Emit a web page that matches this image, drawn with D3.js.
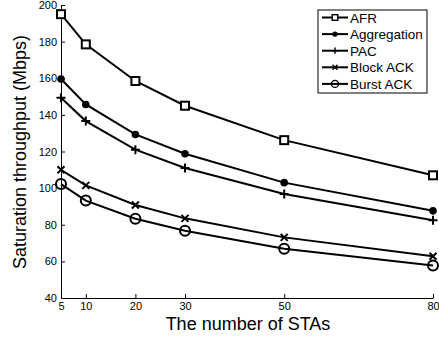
<!DOCTYPE html>
<html>
<head>
<meta charset="utf-8">
<script src="https://cdn.jsdelivr.net/npm/d3@7"></script>
<style>
body { margin: 0; background: #fff; }
text { font-family: "Liberation Sans", Arial, sans-serif; }
</style>
</head>
<body>
<div id="chart"></div>
<script>
// Data
var stas = [5, 10, 20, 30, 50, 80];
var afr = [195, 178.5, 158.5, 145, 126.2, 107];
var aggregation = [159.6, 145.7, 129.3, 118.8, 103, 87.6];
var pac = [149.3, 136.6, 121, 111, 96.8, 82.5];
var blockAck = [110, 101.5, 90.8, 83.5, 73.1, 62.8];
var burstAck = [102.2, 93.2, 83.3, 76.7, 66.9, 57.7];
var seriesNames = ["AFR", "Aggregation", "PAC", "Block ACK", "Burst ACK"];
var markerTypes = ["square", "dot", "plus", "cross", "circle"];
var xTicks = [5, 10, 20, 30, 50, 80];
var yTicks = [40, 60, 80, 100, 120, 140, 160, 180, 200];

var width = 439, height = 341;
var margin = {left: 61, right: 6, top: 5, bottom: 43};

var svg = d3.select("#chart").append("svg")
    .attr("width", width)
    .attr("height", height);

var x = d3.scaleLinear().domain([5, 80]).range([margin.left, width - margin.right]);
var y = d3.scaleLinear().domain([40, 200]).range([height - margin.bottom, margin.top]);

//Axes with inward ticks
svg.append("g")
    .attr("transform", "translate(0," + (height - margin.bottom) + ")")
    .call(d3.axisBottom(x).tickValues(xTicks).tickSizeInner(-4).tickSizeOuter(0).tickPadding(4))
    .call(function(g) {
        g.select(".domain").attr("stroke", "#000");
        g.selectAll("text").attr("font-size", 11).attr("fill", "#000");
    });

svg.append("g")
    .attr("transform", "translate(" + margin.left + ",0)")
    .call(d3.axisLeft(y).tickValues(yTicks).tickSizeInner(-4).tickSizeOuter(0).tickPadding(4))
    .call(function(g) {
        g.select(".domain").attr("stroke", "#000");
        g.selectAll("text").attr("font-size", 11).attr("fill", "#000");
    });

//Axis titles
svg.append("text")
    .attr("x", 248).attr("y", 330)
    .attr("text-anchor", "middle")
    .attr("font-size", 18)
    .text("The number of STAs");

svg.append("text")
    .attr("transform", "translate(26," + 152 + ") rotate(-90)")
    .attr("text-anchor", "middle")
    .attr("font-size", 18)
    .text("Saturation throughput (Mbps)");

var allSeries = [afr, aggregation, pac, blockAck, burstAck];

var line = d3.line()
    .x(function(d, i) { return x(stas[i]); })
    .y(function(d) { return y(d); });

function drawMarker(g, type, cx, cy) {
    if (type === "square") {
        g.append("rect").attr("x", cx - 4).attr("y", cy - 4).attr("width", 8).attr("height", 8)
            .attr("fill", "#fff").attr("stroke", "#000").attr("stroke-width", 2);
    } else if (type === "dot") {
        g.append("circle").attr("cx", cx).attr("cy", cy).attr("r", 3.8).attr("fill", "#000");
    } else if (type === "plus") {
        g.append("path").attr("d", "M" + (cx - 4.5) + "," + cy + "h9M" + cx + "," + (cy - 4.5) + "v9")
            .attr("stroke", "#000").attr("stroke-width", 2);
    } else if (type === "cross") {
        g.append("path").attr("d", "M" + (cx - 3.5) + "," + (cy - 3.5) + "l7,7M" + (cx - 3.5) + "," + (cy + 3.5) + "l7,-7")
            .attr("stroke", "#000").attr("stroke-width", 2);
    } else if (type === "circle") {
        g.append("circle").attr("cx", cx).attr("cy", cy).attr("r", 5).attr("fill", "none")
            .attr("stroke", "#000").attr("stroke-width", 2);
    }
}

allSeries.forEach(function(vals, s) {
    var g = svg.append("g");
    g.append("path").datum(vals)
        .attr("d", line)
        .attr("fill", "none")
        .attr("stroke", "#000")
        .attr("stroke-width", 2);
    vals.forEach(function(v, i) {
        drawMarker(g, markerTypes[s], x(stas[i]), y(v));
    });
});

//Legend
var lg = svg.append("g");
lg.append("rect").attr("x", 318).attr("y", 10).attr("width", 109).attr("height", 83)
    .attr("fill", "#fff").attr("stroke", "#000").attr("stroke-width", 1);
seriesNames.forEach(function(name, i) {
    var ly = 17.5 + i * 16.6;
    lg.append("line").attr("x1", 322).attr("x2", 348).attr("y1", ly).attr("y2", ly)
        .attr("stroke", "#000").attr("stroke-width", 2);
    var mg = lg.append("g").attr("transform", "translate(335," + ly + ") scale(0.7) translate(-335," + (-ly) + ")");
    drawMarker(mg, markerTypes[i], 335, ly);
    lg.append("text").attr("x", 350).attr("y", ly + 5).attr("font-size", 13.5).text(name);
});
</script>
</body>
</html>
